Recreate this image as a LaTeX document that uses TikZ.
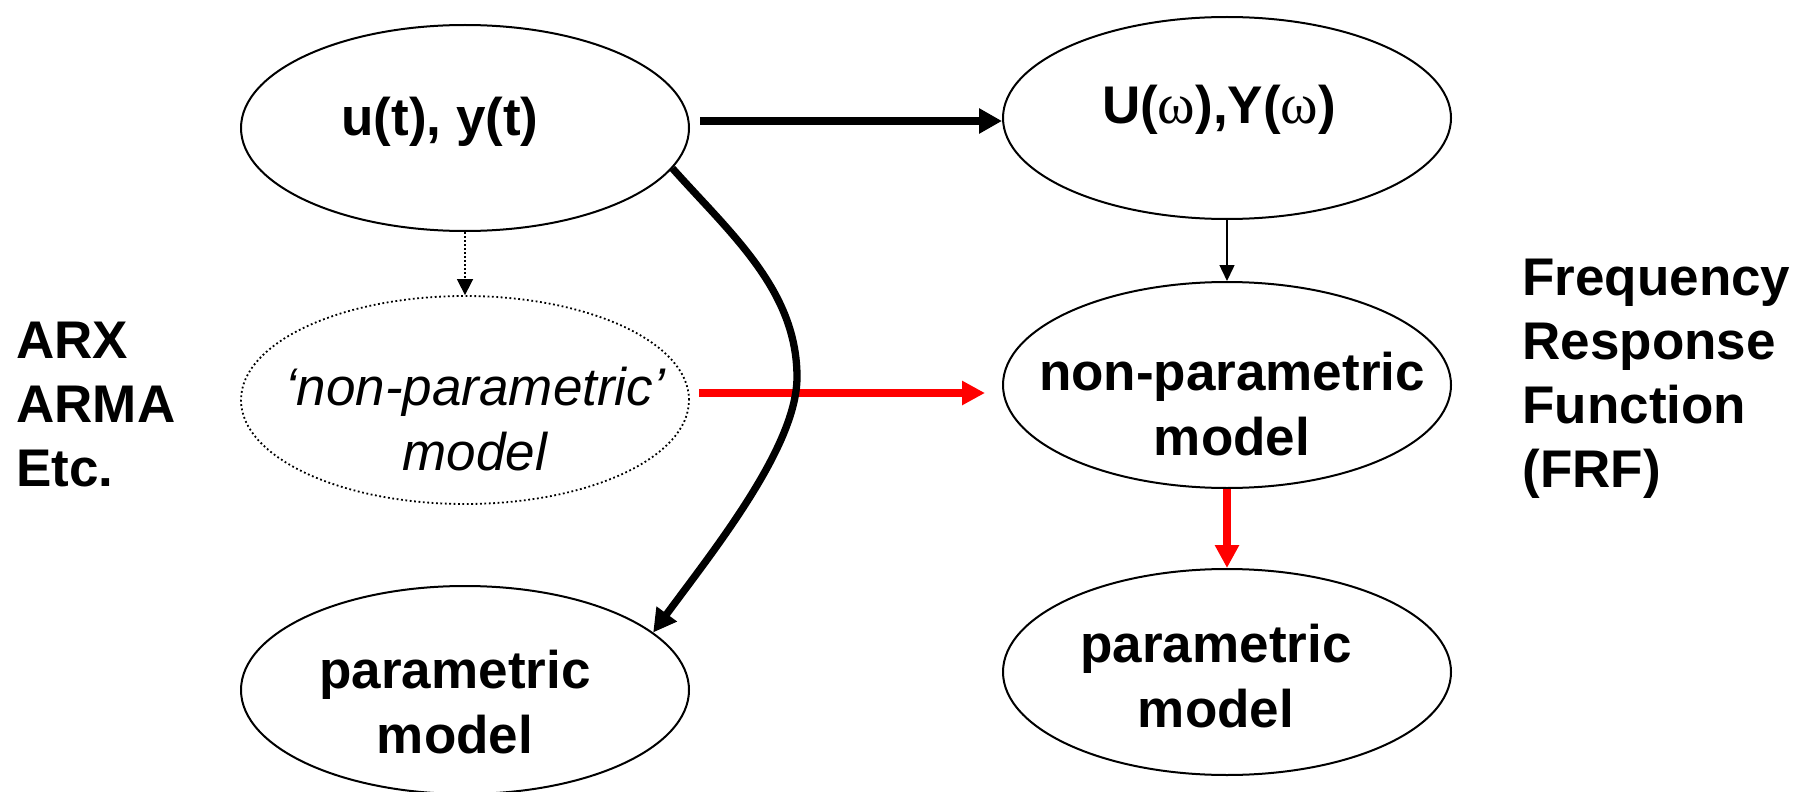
\documentclass[tikz,border=0pt]{standalone}
\usepackage{fontspec}
\setmainfont{Liberation Sans}
\newfontfamily\omegafont{Liberation Serif}
\usetikzlibrary{arrows.meta,shapes.geometric}
\newcommand\linesC[1]{\vtop{\halign{\hfil##\hfil\cr #1\crcr}}}
\newcommand\linesL[1]{\vtop{\halign{##\hfil\cr #1\crcr}}}
\newcommand\om{{\omegafont\mdseries\fontsize{28.5}{32}\selectfont ω}}
\begin{document}
\begin{tikzpicture}[x=0.5pt,y=-0.5pt,
  ell/.style={ellipse, draw, line width=1pt, minimum width=224pt, minimum height=103pt, inner sep=0pt},
  dell/.style={ellipse, draw, line width=0.9pt, dash pattern=on 0.9pt off 1.3pt, minimum width=224pt, minimum height=104pt, inner sep=0pt},
  txt/.style={inner sep=0pt, anchor=base, font=\fontsize{26.5}{32.5}\selectfont\bfseries},
  itxt/.style={inner sep=0pt, anchor=base, font=\fontsize{26.5}{32.5}\selectfont\itshape},
  side/.style={inner sep=0pt, anchor=base west, font=\fontsize{26.5}{32}\selectfont\bfseries},
  bigarrow/.style={line width=3.65pt, -{Triangle[length=11.5pt,width=12pt]}},
  redarrow/.style={line width=4pt, red, -{Triangle[length=11.5pt,width=11.5pt]}},
  thinarrow/.style={line width=0.75pt, -{Triangle[length=8pt,width=7.5pt]}},
  dotarrow/.style={line width=0.8pt, dash pattern=on 0.8pt off 1.2pt, -{Triangle[length=8pt,width=8pt]}}]
\fill[white] (0,0) rectangle (1805,792);
\useasboundingbox (0,0) rectangle (1805,792);

% ellipses
\node[ell]  (u) at (465,128) {};
\node[ell, minimum height=101pt] (U) at (1227,118) {};
\node[dell] (D) at (465,400) {};
\node[ell]  (N) at (1227,385) {};
\node[ell, minimum height=104pt] (P) at (465,690) {};
\node[ell]  (Q) at (1227,672) {};

% texts
\node[txt]  (ut) at (440,135) {u(t), y(t)};
\node[txt]  (Ut) at (1219,124) {U(\om),Y(\om)};
\node[itxt] (Dt) at (475,405) {\linesC{‘non-parametric’\cr model}};
\node[txt]  (Nt) at (1232,390) {\linesC{non-parametric\cr model}};
\node[txt]  (Pt) at (455,688) {\linesC{parametric\cr model}};
\node[txt]  (Qt) at (1216,662) {\linesC{parametric\cr model}};
\node[side] (L)  at (16,358) {\linesL{ARX\cr ARMA\cr Etc.}};
\node[side] (R)  at (1522,295) {\linesL{Frequency\cr Response\cr Function\cr (FRF)}};

% connectors
\draw[bigarrow] ([xshift=5pt,yshift=3.5pt]u.east) -- ([yshift=-1.5pt]U.west);
\draw[thinarrow] (U.south) -- (N.north);
\draw[dotarrow] (u.south) -- (D.north);
\draw[redarrow] ([xshift=4.5pt,yshift=3.5pt]D.east) -- ([xshift=-8.5pt,yshift=-4pt]N.west);
\draw[redarrow] (N.south) -- (Q.north);
\draw[bigarrow] (u.-11.7) .. controls (730,233) and (797,290) .. (797,377)
   .. controls (797,447) and (713,551) .. (P.17.8);
\end{tikzpicture}
\end{document}
